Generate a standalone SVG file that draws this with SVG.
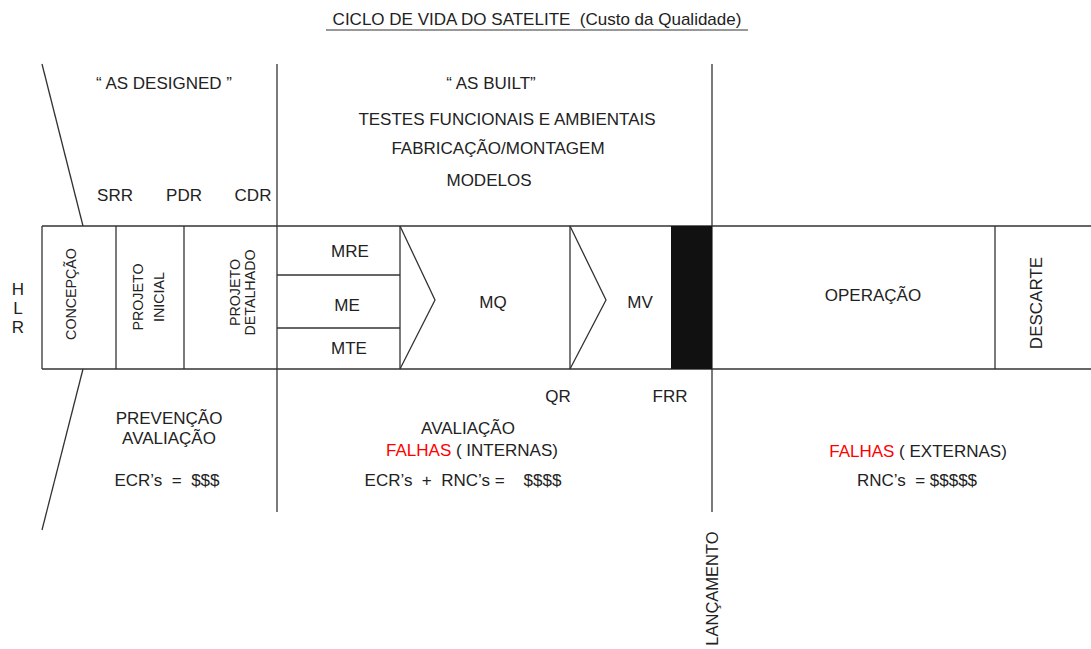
<svg xmlns="http://www.w3.org/2000/svg" width="1091" height="649" viewBox="0 0 1091 649">
<style>
text{font-family:"Liberation Sans",Arial,sans-serif;font-size:17px;fill:#222;text-anchor:middle}
.sm{font-size:15.5px}
.red{fill:#f00}
.ln{stroke:#333;stroke-width:1.3;fill:none}
</style>
<rect width="1091" height="649" fill="#fff"/>
<g id="title">
<text x="537" y="25" xml:space="preserve">CICLO DE VIDA DO SATELITE  (Custo da Qualidade)</text>
<line x1="326" y1="30" x2="748" y2="30" stroke="#333" stroke-width="1"/>
</g>
<g id="connectors">
<line class="ln" x1="42" y1="64" x2="83" y2="226"/>
<line class="ln" x1="83" y1="369" x2="42" y2="530"/>
<line class="ln" x1="277" y1="64" x2="277" y2="512"/>
<line class="ln" x1="712" y1="64" x2="712" y2="512"/>
</g>
<g id="band">
<line class="ln" x1="42" y1="226" x2="1091" y2="226"/>
<line class="ln" x1="42" y1="369" x2="1091" y2="369"/>
<line class="ln" x1="42" y1="226" x2="42" y2="369"/>
<line class="ln" x1="116" y1="226" x2="116" y2="369"/>
<line class="ln" x1="184" y1="226" x2="184" y2="369"/>
<line class="ln" x1="400" y1="226" x2="400" y2="369"/>
<line class="ln" x1="277" y1="275" x2="400" y2="275"/>
<line class="ln" x1="277" y1="328" x2="400" y2="328"/>
<polyline class="ln" points="400,226 435,300 400,369"/>
<line class="ln" x1="570" y1="226" x2="570" y2="369"/>
<polyline class="ln" points="570,226 606,300 570,369"/>
<rect x="671" y="226" width="41" height="143" fill="#111"/>
<line class="ln" x1="995" y1="226" x2="995" y2="369"/>
</g>
<g id="hlr"><text x="18" y="295">H</text><text x="18" y="314">L</text><text x="18" y="333">R</text></g>
<g id="concepcao"><text class="sm" transform="translate(76,294) rotate(-90) scale(0.92,1)">CONCEPÇÃO</text></g>
<g id="projeto-inicial"><text class="sm" transform="translate(143,297) rotate(-90) scale(0.92,1)"><tspan x="0" y="0">PROJETO</tspan><tspan x="0" y="21">INICIAL</tspan></text></g>
<g id="projeto-detalhado"><text class="sm" transform="translate(240,292.5) rotate(-90) scale(0.92,1)"><tspan x="0" y="0">PROJETO</tspan><tspan x="0" y="15">DETALHADO</tspan></text></g>
<g id="mre"><text x="350" y="257">MRE</text></g>
<g id="me"><text x="347" y="311">ME</text></g>
<g id="mte"><text x="349" y="354">MTE</text></g>
<g id="mq"><text x="493" y="308">MQ</text></g>
<g id="mv"><text x="640" y="308">MV</text></g>
<g id="operacao"><text x="873" y="301">OPERAÇÃO</text></g>
<g id="descarte"><text transform="translate(1042,303) rotate(-90)">DESCARTE</text></g>
<g id="top-labels">
<text x="164" y="89">“ AS DESIGNED ”</text>
<text x="491" y="89">“ AS BUILT”</text>
<text x="507" y="125">TESTES FUNCIONAIS E AMBIENTAIS</text>
<text x="498" y="154">FABRICAÇÃO/MONTAGEM</text>
<text x="489" y="186">MODELOS</text>
<text x="115" y="201">SRR</text>
<text x="184" y="201">PDR</text>
<text x="253" y="201">CDR</text>
</g>
<g id="bottom-labels">
<text x="558" y="402">QR</text>
<text x="670" y="402">FRR</text>
<text x="169" y="424">PREVENÇÃO</text>
<text x="169" y="444">AVALIAÇÃO</text>
<text x="167" y="486" xml:space="preserve">ECR’s  =  $$$</text>
<text x="468" y="434">AVALIAÇÃO</text>
<text x="472" y="456"><tspan class="red">FALHAS</tspan> ( INTERNAS)</text>
<text x="463" y="486" xml:space="preserve">ECR’s  +  RNC’s =    $$$$</text>
<text x="918" y="457"><tspan class="red">FALHAS</tspan> ( EXTERNAS)</text>
<text x="917" y="486" xml:space="preserve">RNC’s  = $$$$$</text>
<text style="font-size:16.5px" transform="translate(718,588.5) rotate(-90)">LANÇAMENTO</text>
</g>
</svg>
